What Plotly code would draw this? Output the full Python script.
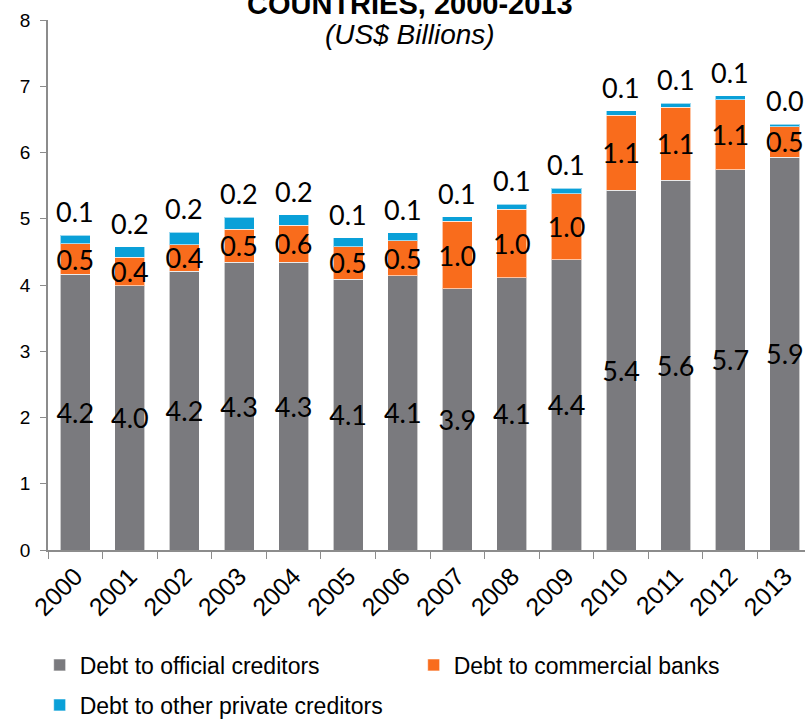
import plotly.graph_objects as go

years = ["2000", "2001", "2002", "2003", "2004", "2005", "2006",
         "2007", "2008", "2009", "2010", "2011", "2012", "2013"]
official = [4.16, 3.99, 4.21, 4.34, 4.34, 4.09, 4.14, 3.94, 4.11, 4.38, 5.43, 5.58, 5.74, 5.93]
commercial = [0.46, 0.43, 0.40, 0.50, 0.56, 0.49, 0.53, 1.02, 1.03, 1.00, 1.13, 1.10, 1.06, 0.46]
other_private = [0.13, 0.16, 0.19, 0.18, 0.16, 0.13, 0.12, 0.07, 0.08, 0.08, 0.07, 0.06, 0.06, 0.04]

names = ["Debt to official creditors", "Debt to commercial banks", "Debt to other private creditors"]
colors = ["#7a7a7e", "#f96c1c", "#0aa0d8"]

label_font = dict(family="Lato", size=27, color="black")
axis_font = "Liberation Sans, Arial, sans-serif"

fig = go.Figure()
for vals, name, col, lab, lg in [(official, names[0], colors[0], True, "legend"),
                                 (commercial, names[1], colors[1], True, "legend"),
                                 (other_private, names[2], colors[2], False, "legend2")]:
    fig.add_trace(go.Bar(
        x=years, y=vals, name=name, legend=lg,
        marker=dict(color=col, line=dict(color="rgba(255,255,255,0.6)", width=1)),
        texttemplate="%{y:.1f}" if lab else None,
        textposition="inside" if lab else "none",
        insidetextanchor="middle",
        textangle=0,
        constraintext="none",
        textfont=label_font,
        insidetextfont=label_font,
        hoverinfo="skip",
    ))

totals = [a + b + c for a, b, c in zip(official, commercial, other_private)]
for i, (tot, v) in enumerate(zip(totals, other_private)):
    fig.add_annotation(x=i, y=tot, text=f"{v:.1f}", showarrow=False,
                       xref="x", yref="y",
                       yanchor="bottom", yshift=5, font=label_font)

fig.add_annotation(xref="paper", yref="paper", x=0.478, y=1.030,
                   text="<b>COUNTRIES, 2000-2013</b>", showarrow=False,
                   xanchor="center", yanchor="middle",
                   font=dict(family=axis_font, size=29, color="black"))
fig.add_annotation(xref="paper", yref="paper", x=0.478, y=0.972,
                   text="<i>(US$ Billions)</i>", showarrow=False,
                   xanchor="center", yanchor="middle",
                   font=dict(family=axis_font, size=28, color="black"))

leg_common = dict(orientation="h", xanchor="left", yanchor="middle",
                  font=dict(family=axis_font, size=23, color="black"),
                  traceorder="normal", itemclick=False, itemdoubleclick=False,
                  bgcolor="rgba(0,0,0,0)")

fig.update_layout(
    barmode="stack",
    bargap=0.45,
    width=805, height=720,
    margin=dict(l=48, r=0, t=20, b=170, autoexpand=False),
    paper_bgcolor="white", plot_bgcolor="white",
    showlegend=True,
    legend=dict(x=-0.011, y=(550 - 665) / 530, entrywidth=329, entrywidthmode="pixels",
                **leg_common),
    legend2=dict(x=-0.011, y=(550 - 705) / 530, **leg_common),
    font=dict(family=axis_font, color="black"),
)
fig.update_xaxes(range=[-0.5, 13.37], showline=True, linecolor="#8c8c8c", linewidth=1.5,
                 ticks="outside", ticklen=7, tickcolor="#8c8c8c", tickson="boundaries",
                 tickangle=-45, tickfont=dict(family=axis_font, size=25, color="black"),
                 showgrid=False, automargin=False)
fig.update_yaxes(range=[0, 8], dtick=1, showline=True, linecolor="#8c8c8c", linewidth=1.5,
                 ticks="outside", ticklen=6, tickcolor="#8c8c8c", showgrid=False,
                 zeroline=False, ticklabelstandoff=6, automargin=False,
                 tickfont=dict(family=axis_font, size=19, color="black"))

fig.write_html("out.html")
